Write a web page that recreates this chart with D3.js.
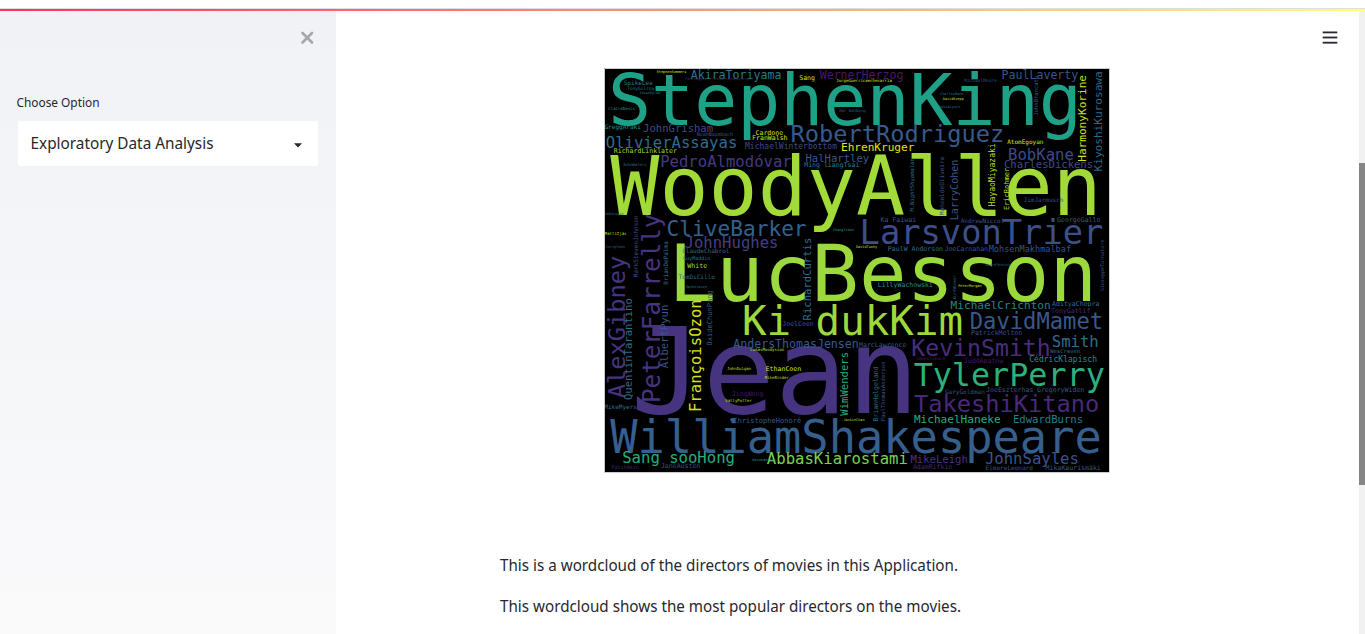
<!DOCTYPE html>
<html>
<head>
<meta charset="utf-8">
<script src="https://cdn.jsdelivr.net/npm/d3@7"></script>
<style>
  html, body { margin: 0; padding: 0; background: #fff; overflow: hidden; }
  svg { display: block; }
</style>
</head>
<body>
<script>
// word cloud layout as produced by the generator (canvas 1000 x 800)
const directors = [
  'StephenKing', 'WoodyAllen', 'LucBesson', 'Jean', 'WilliamShakespeare', 'RobertRodriguez', 'LarsvonTrier', 'Ki dukKim', 'TylerPerry', 'KevinSmith',
  'TakeshiKitano', 'DavidMamet', 'CliveBarker', 'JohnHughes', 'OlivierAssayas', 'PedroAlmodóvar', 'AlexGibney', 'PeterFarrelly', 'Smith', 'JohnSayles',
  'AbbasKiarostami', 'Sang sooHong', 'BobKane', 'FrançoisOzon', 'AkiraToriyama', 'WernerHerzog', 'PaulLaverty', 'AndersThomasJensen', 'HarmonyKorine', 'KiyoshiKurosawa',
  'EhrenKruger', 'MichaelCrichton', 'MichaelHaneke', 'JohnGrisham', 'CharlesDickens', 'HalHartley', 'EdwardBurns', 'MikeLeigh', 'QuentinTarantino', 'AlbertPyun',
  'RichardCurtis', 'WimWenders', 'LarryCohen', 'MichaelWinterbottom', 'CédricKlapisch', 'HayaoMiyazaki', 'MohsenMakhmalbaf', 'ChristopheHonoré', 'OxideChunPang', 'EricRohmer',
  'Ming liangTsai', 'Cardone', 'FranWalsh', 'RichardLinklater', 'Sang', 'JaneAusten', 'AdamRifkin', 'MikaKaurismäki', 'EthanCoen', 'JingWong',
  'JoelCoen', 'White', 'LillyWachowski', 'PaulW Anderson', 'JoeCarnahan', 'Ka Faiwai', 'GeorgeGallo', 'AdityaChopra', 'TonyGatlif', 'PatrickMelton',
  'JuddApatow', 'JoeEszterhas', 'GregoryWiden', 'BrianHelgeland', 'MarcLawrence', 'GreggAraki', 'SpikeLee', 'MarkStevenJohnson', 'MikeMyers', 'ClaudeChabrol',
  'TomDiCillo', 'BrianDePalma', 'AndrewNiccol', 'ElmoreLeonard', 'GaryGoldman', 'ManoeldeOliveira', 'JimJarmusch', 'AtomEgoyan', 'WesCraven', 'PaulThomasAnderson',
  'M.NightShyamalan', 'JohnBrancato', 'FatihAkin', 'GuyMaddin', 'NoahBaumbach', 'GiuseppeTornatore', 'TonyGilroy', 'JamesToback', 'MichaelMoore', 'JorgeGuerricaechevarria',
  'ClaireDenis', 'JohnWaters', 'Kar WaiWong', 'JohnDuigan', 'SallyPotter', 'MikeBinder', 'LukasMoodysson', 'KurtWimmer', 'MattiIjäs', 'JesseDylan',
  'SpikeJonze', 'JackieChan', 'WesAnderson', 'DavidTwohy', 'AndréTéchiné', 'PeterMorgan', 'ZhangYimou', 'CoreyYuen', 'JohnLogan', 'CharlesBand',
  'DavidKoepp', 'DavidLynch', 'PaulHaggis', 'JonathanHensleigh', 'StephenSommers', '•', '■'
]
const fontSize = [
  142, 162, 157, 238, 90, 47, 67, 81, 63, 46,
  47, 44, 42, 31, 31, 31, 47, 48, 31, 31,
  31, 31, 31, 31, 23, 23, 23, 23, 22, 22,
  22, 22, 22, 21, 21, 21, 21, 21, 21, 21,
  21, 21, 20, 16, 16, 16, 17, 14, 14, 14,
  13, 13, 13, 13, 13, 13, 13, 13, 13, 13,
  13, 13, 13, 13, 13, 13, 13, 13, 13, 13,
  13, 13, 13, 13, 13, 12, 12, 12, 12, 12,
  12, 12, 12, 12, 12, 12, 12, 12, 11, 11,
  11, 11, 10, 10, 10, 10, 9, 9, 9, 8,
  8, 8, 8, 8, 8, 8, 8, 8, 8, 7,
  7, 7, 7, 7, 7, 7, 7, 7, 7, 7,
  7, 7, 7, 7, 7, 16, 14
]
const layoutX = [
  476, 498, 551, 337, 498, 580, 747, 491, 802, 746,
  797, 856, 261, 251, 132, 240, 24, 93, 933, 847,
  461, 146, 865, 181, 260, 509, 863, 379, 948, 980,
  541, 785, 699, 145, 880, 461, 879, 663, 46, 117,
  401, 474, 694, 369, 909, 768, 843, 322, 208, 797,
  450, 326, 327, 80, 401, 150, 650, 929, 354, 283,
  383, 183, 596, 616, 717, 582, 940, 934, 924, 777,
  751, 803, 904, 538, 551, 35, 66, 60, 31, 200,
  182, 120, 749, 802, 714, 668, 870, 834, 913, 552,
  609, 855, 40, 182, 218, 987, 71, 646, 745, 514,
  33, 59, 491, 266, 265, 341, 322, 694, 21, 89,
  181, 494, 316, 519, 780, 724, 473, 21, 18, 688,
  691, 684, 180, 253, 132, 251, 156
]
const layoutY = [
  62, 234, 406, 600, 731, 129, 324, 501, 608, 552,
  666, 501, 316, 345, 147, 184, 512, 475, 541, 774,
  775, 772, 170, 569, 11, 11, 12, 545, 98, 104,
  155, 470, 696, 117, 189, 176, 695, 774, 556, 531,
  417, 625, 240, 154, 577, 210, 357, 698, 494, 238,
  191, 127, 137, 162, 18, 789, 790, 792, 596, 645,
  507, 391, 428, 357, 357, 300, 300, 467, 481, 524,
  580, 637, 637, 645, 547, 114, 27, 352, 669, 361,
  412, 385, 300, 791, 640, 232, 259, 143, 560, 640,
  230, 53, 790, 376, 130, 390, 39, 574, 23, 22,
  79, 190, 83, 594, 658, 612, 557, 433, 327, 48,
  433, 696, 777, 354, 390, 430, 319, 353, 288, 50,
  60, 76, 20, 20, 5, 697, 528
]
// 1 = word drawn vertically (reads bottom to top)
const vertical = [
  0, 0, 0, 0, 0, 0, 0, 0, 0, 0,
  0, 0, 0, 0, 0, 0, 1, 1, 0, 0,
  0, 0, 0, 1, 0, 0, 0, 0, 1, 1,
  0, 0, 0, 0, 0, 0, 0, 0, 1, 1,
  1, 1, 1, 0, 0, 1, 0, 0, 1, 1,
  0, 0, 0, 0, 0, 0, 0, 0, 0, 0,
  0, 0, 0, 0, 0, 0, 0, 0, 0, 0,
  0, 0, 0, 1, 0, 0, 0, 1, 0, 0,
  0, 1, 0, 0, 0, 1, 0, 0, 0, 1,
  1, 1, 0, 0, 0, 1, 0, 0, 0, 0,
  0, 0, 0, 0, 0, 0, 0, 1, 0, 0,
  0, 0, 0, 0, 0, 0, 0, 0, 0, 0,
  0, 0, 0, 0, 0, 0, 0
]
// position on the viridis colormap
const shade = [
  0.57, 0.86, 0.85, 0.15, 0.30, 0.28, 0.24, 0.85, 0.64, 0.13,
  0.12, 0.27, 0.31, 0.18, 0.34, 0.17, 0.15, 0.15, 0.35, 0.25,
  0.80, 0.62, 0.22, 0.94, 0.40, 0.06, 0.26, 0.28, 0.92, 0.33,
  0.96, 0.45, 0.62, 0.22, 0.22, 0.27, 0.42, 0.15, 0.35, 0.25,
  0.35, 0.62, 0.25, 0.22, 0.50, 0.90, 0.25, 0.28, 0.30, 0.88,
  0.42, 0.93, 0.93, 0.86, 0.93, 0.25, 0.10, 0.25, 0.93, 0.06,
  0.28, 0.86, 0.50, 0.35, 0.25, 0.25, 0.28, 0.35, 0.12, 0.25,
  0.06, 0.25, 0.28, 0.35, 0.25, 0.50, 0.40, 0.25, 0.35, 0.35,
  0.35, 0.35, 0.25, 0.25, 0.25, 0.25, 0.25, 0.93, 0.35, 0.25,
  0.35, 0.30, 0.10, 0.40, 0.25, 0.25, 0.40, 0.06, 0.25, 0.93,
  0.50, 0.35, 0.25, 0.90, 0.90, 0.90, 0.90, 0.35, 0.90, 0.40,
  0.40, 0.90, 0.50, 0.90, 0.35, 0.93, 0.50, 0.35, 0.35, 0.35,
  0.90, 0.35, 0.10, 0.10, 0.93, 0.28, 0.15
]

const paragraphs = [
  'This is a wordcloud of the directors of movies in this Application.',
  'This wordcloud shows the most popular directors on the movies.'
]
const menuLabel = 'Choose Option'
const menuValue = 'Exploratory Data Analysis'

const W = 1365, H = 634
const textColor = '#262730'
const uiFont = '"Noto Sans", "Open Sans", sans-serif'

const svg = d3.select('body').append('svg')
  .attr('width', W)
  .attr('height', H)

const defs = svg.append('defs')
const topGrad = defs.append('linearGradient').attr('id', 'topbar')
topGrad.append('stop').attr('offset', '0%').attr('stop-color', '#f63366')
topGrad.append('stop').attr('offset', '100%').attr('stop-color', '#fffd80')
const sideGrad = defs.append('linearGradient').attr('id', 'side')
  .attr('x1', 0).attr('x2', 0).attr('y1', 0).attr('y2', 1)
sideGrad.append('stop').attr('offset', '0%').attr('stop-color', '#f0f2f6')
sideGrad.append('stop').attr('offset', '100%').attr('stop-color', '#fafafb')

// top decoration
svg.append('rect').attr('x', 0).attr('y', 8).attr('width', W).attr('height', 1).attr('fill', '#dedede')
svg.append('rect').attr('x', 0).attr('y', 9).attr('width', W).attr('height', 2).attr('fill', 'url(#topbar)')

// sidebar
const side = svg.append('g')
side.append('rect').attr('x', 0).attr('y', 11).attr('width', 336).attr('height', H - 11).attr('fill', 'url(#side)')
side.append('path')
  .attr('d', 'M302.5,33 L312,42.5 M312,33 L302.5,42.5')
  .attr('stroke', '#a3a6ad').attr('stroke-width', 2.6).attr('stroke-linecap', 'round')
side.append('text')
  .attr('x', 16.5).attr('y', 106.5)
  .attr('textLength', 83).attr('lengthAdjust', 'spacingAndGlyphs')
  .style('font', `13px ${uiFont}`).attr('fill', textColor)
  .text(menuLabel)
side.append('rect')
  .attr('x', 18).attr('y', 121).attr('width', 300).attr('height', 45).attr('rx', 2)
  .attr('fill', '#fff')
side.append('text')
  .attr('x', 30.5).attr('y', 148.5)
  .attr('textLength', 183).attr('lengthAdjust', 'spacingAndGlyphs')
  .style('font', `16px ${uiFont}`).attr('fill', textColor)
  .text(menuValue)
side.append('path')
  .attr('d', 'M294,143.2 L302,143.2 L298,147.4 Z')
  .attr('fill', textColor)

// hamburger
svg.append('g').selectAll('rect')
  .data([31.5, 36.6, 41.8])
  .join('rect')
  .attr('x', 1322.7).attr('y', d => d).attr('width', 14.6).attr('height', 1.8)
  .attr('fill', textColor)

// scrollbar
svg.append('rect').attr('x', 1359).attr('y', 11).attr('width', 6).attr('height', H - 11).attr('fill', '#f1f1f1')
svg.append('rect').attr('x', 1359).attr('y', 163).attr('width', 6).attr('height', 322).attr('fill', '#858585')

// word cloud image
const cloudBox = { left: 605, top: 69, width: 504, height: 403 }
const x = d3.scaleLinear().domain([0, 1000]).range([0, cloudBox.width])
const y = d3.scaleLinear().domain([0, 800]).range([0, cloudBox.height])
const size = d3.scaleLinear().domain([0, 1000]).range([0, cloudBox.width])

defs.append('clipPath').attr('id', 'cloudclip')
  .append('rect').attr('width', cloudBox.width).attr('height', cloudBox.height)

svg.append('rect')
  .attr('x', cloudBox.left - 0.5).attr('y', cloudBox.top - 0.5)
  .attr('width', cloudBox.width + 1).attr('height', cloudBox.height + 1)
  .attr('fill', 'none').attr('stroke', '#a8a8a8').attr('stroke-width', 0.6)

const cloud = svg.append('g')
  .attr('transform', `translate(${cloudBox.left},${cloudBox.top})`)
  .attr('clip-path', 'url(#cloudclip)')

cloud.append('rect')
  .attr('width', cloudBox.width).attr('height', cloudBox.height)
  .attr('fill', '#000')

const words = directors.map((name, i) => ({
  name: name,
  size: fontSize[i],
  x: layoutX[i],
  y: layoutY[i],
  v: vertical[i],
  t: shade[i]
}))

cloud.selectAll('text.word')
  .data(words)
  .join('text')
  .attr('class', 'word')
  .attr('transform', d => `translate(${x(d.x)},${y(d.y)})` + (d.v ? ' rotate(-90)' : ''))
  .attr('text-anchor', 'middle')
  .attr('dominant-baseline', 'central')
  .style('font-family', '"DejaVu Sans Mono", monospace')
  .style('font-size', d => size(d.size) + 'px')
  .attr('fill', d => d3.interpolateViridis(d.t))
  .text(d => d.name)

// caption
svg.append('g').selectAll('text')
  .data(paragraphs)
  .join('text')
  .attr('x', 500)
  .attr('y', (d, i) => 571 + i * 41)
  .attr('textLength', (d, i) => i === 0 ? 458 : 461)
  .attr('lengthAdjust', 'spacingAndGlyphs')
  .style('font', `16px ${uiFont}`)
  .attr('fill', textColor)
  .text(d => d)
</script>
</body>
</html>
